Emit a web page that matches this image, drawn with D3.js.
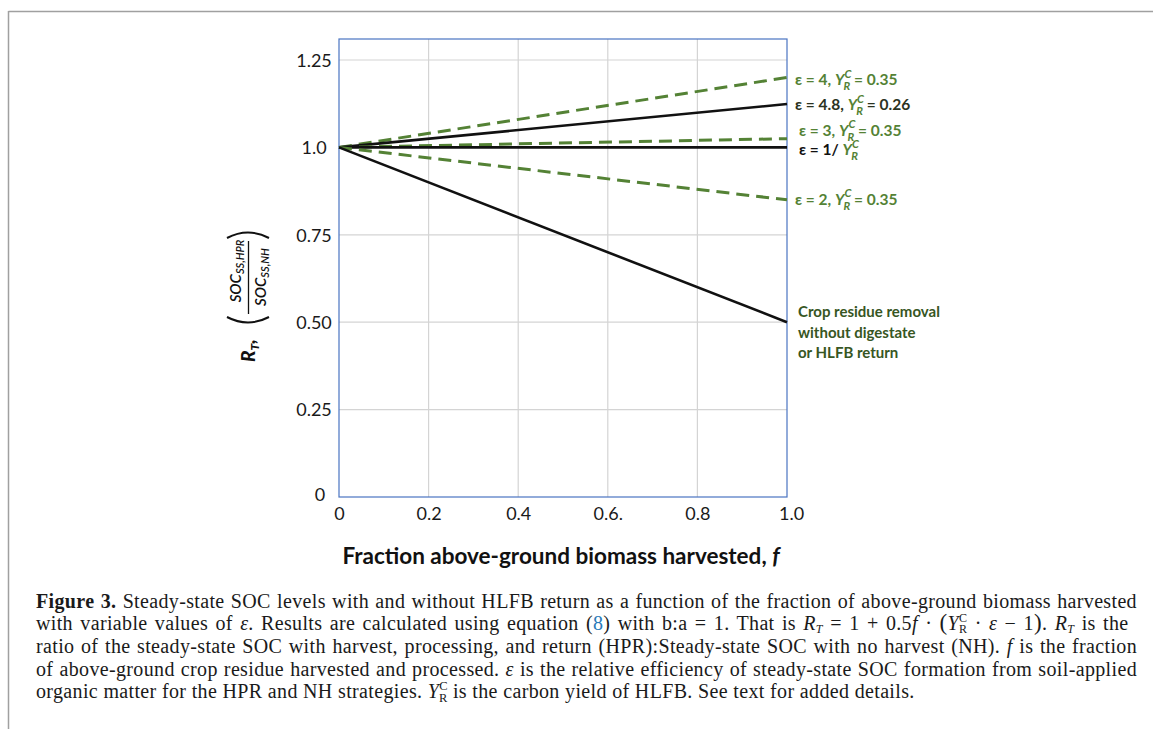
<!DOCTYPE html>
<html><head><meta charset="utf-8">
<script src="https://cdn.jsdelivr.net/npm/d3@7"></script>
<style>body{margin:0;background:#fff} svg{display:block}</style>
</head><body>
<svg id="c" width="1153" height="729"></svg>
<script>
// ---------- data ----------
const fValues = [0, 1];
const eps4    = [1.0, 1.20];
const eps48   = [1.0, 1.124];
const eps3    = [1.0, 1.025];
const eps1    = [1.0, 1.0];
const eps2    = [1.0, 0.85];
const removal = [1.0, 0.50];
const yTicks = [0, 0.25, 0.5, 0.75, 1.0, 1.25];
const yTickLabels = ["0", "0.25", "0.50", "0.75", "1.0", "1.25"];
const xTicks = [0, 0.2, 0.4, 0.6, 0.8, 1.0];
const xTickLabels = ["0", "0.2", "0.4", "0.6.", "0.8", "1.0"];
const epsLabels = ["4", "4.8", "3", "1/", "2"];
const yrcLabels = ["0.35", "0.26", "0.35", "", "0.35"];
const removalLabel = ["Crop residue removal", "without digestate", "or HLFB return"];

// ---------- styles ----------
const GREEN = "#548235", DARKGREEN = "#375623", BLACK = "#111";
const series = [
  {v: eps4, color: GREEN, dash: "13,7", w: 3},
  {v: eps48, color: BLACK, dash: null, w: 2.6},
  {v: eps3, color: GREEN, dash: "13,7", w: 3},
  {v: eps1, color: BLACK, dash: null, w: 2.6},
  {v: eps2, color: GREEN, dash: "13,7", w: 3},
  {v: removal, color: BLACK, dash: null, w: 2.6}
];
const labelStyle = [
  {dy: 8, dx: 8, epsColor: GREEN, numColor: GREEN},
  {dy: 6, dx: 8, epsColor: "#2b3322", numColor: "#2b3322"},
  {dy: -3, dx: 12, epsColor: GREEN, numColor: GREEN},
  {dy: 8, dx: 12, epsColor: BLACK, numColor: BLACK},
  {dy: 5, dx: 8, epsColor: GREEN, numColor: GREEN}
];

const svg = d3.select("#c");
const x = d3.scaleLinear().domain([0, 1]).range([339, 787]);
const y = d3.scaleLinear().domain([0, 1.31]).range([497, 39]);

// frame
svg.append("line").attr("x1", 8.5).attr("x2", 1153).attr("y1", 11.5).attr("y2", 11.5)
  .attr("stroke", "#a0a0a0").attr("stroke-width", 1.5);
svg.append("line").attr("x1", 8.5).attr("x2", 8.5).attr("y1", 11).attr("y2", 729)
  .attr("stroke", "#a0a0a0").attr("stroke-width", 1.5);

// grid
const g = svg.append("g");
g.selectAll(".hg").data(yTicks.filter(d => d > 0)).join("line")
  .attr("x1", x(0)).attr("x2", x(1)).attr("y1", d => y(d)).attr("y2", d => y(d))
  .attr("stroke", "#d4d4d4").attr("stroke-width", 1.2);
g.selectAll(".vg").data(xTicks.filter(d => d > 0 && d < 1)).join("line")
  .attr("x1", d => x(d)).attr("x2", d => x(d)).attr("y1", y(0)).attr("y2", y.range()[1])
  .attr("stroke", "#d4d4d4").attr("stroke-width", 1.2);
// plot border
g.append("rect").attr("x", x(0)).attr("y", y.range()[1]).attr("width", x(1) - x(0))
  .attr("height", y(0) - y.range()[1]).attr("fill", "none").attr("stroke", "#4a74c2").attr("stroke-width", 1.2);

// axes (labels via d3 axes, domain & ticks hidden)
const yAxis = d3.axisLeft(y).tickValues(yTicks).tickFormat((d, i) => yTickLabels[i]).tickSize(0).tickPadding(0);
const ya = svg.append("g").attr("transform", "translate(314,0)").call(yAxis);
ya.select(".domain").remove();
ya.selectAll("text").attr("text-anchor", "middle").attr("font-family", "Lato, 'Open Sans', sans-serif")
  .attr("font-size", 18).attr("fill", "#1a1a1a").attr("dy", "0.35em");
ya.selectAll("text").filter((d) => d === 0).attr("dx", 6).attr("dy", "0.2em");

const xAxis = d3.axisBottom(x).tickValues(xTicks).tickFormat((d, i) => xTickLabels[i]).tickSize(0).tickPadding(0);
const xa = svg.append("g").attr("transform", "translate(0,510)").call(xAxis);
xa.select(".domain").remove();
xa.selectAll("text").attr("font-family", "Lato, 'Open Sans', sans-serif").attr("font-size", 18)
  .attr("fill", "#1a1a1a").attr("dy", "0.55em");
xa.selectAll("text").filter(d => d === 1).attr("dx", 4);

// lines
const line = d3.line().x((d, i) => x(fValues[i])).y(d => y(d));
svg.selectAll(".ser").data(series).join("path")
  .attr("d", d => line(d.v)).attr("fill", "none")
  .attr("stroke", d => d.color).attr("stroke-width", d => d.w)
  .attr("stroke-dasharray", d => d.dash);

// right labels
const LF = "Lato, 'Open Sans', sans-serif";
const LS = 15.5;
function yrc(t, color, size) {
  t.append("tspan").attr("font-style", "italic").attr("fill", color).attr("font-size", size).text("Y");
  t.append("tspan").attr("font-style", "italic").attr("fill", color).attr("font-size", size * 0.72).attr("dy", -size * 0.48).text("C");
  t.append("tspan").attr("font-style", "italic").attr("fill", color).attr("font-size", size * 0.72).attr("dx", -size * 0.5).attr("dy", size * 0.80).text("R");
  t.append("tspan").attr("font-size", size).attr("dy", -size * 0.32).text(" ");
}
const labelIdx = [0, 1, 2, 3, 4];
labelIdx.forEach(i => {
  const s = series[i], st = labelStyle[i];
  const t = svg.append("text").attr("x", x(1) + st.dx).attr("y", y(s.v[1]) + st.dy)
    .attr("font-family", LF).attr("font-weight", 700).attr("font-size", LS).attr("fill", st.epsColor);
  if (yrcLabels[i]) {
    t.append("tspan").text("\u03b5 = " + epsLabels[i] + ", ");
    yrc(t, GREEN, LS);
    t.append("tspan").attr("fill", st.numColor).text("= " + yrcLabels[i]);
  } else {
    t.append("tspan").text("\u03b5 = " + epsLabels[i] + " ");
    yrc(t, GREEN, LS);
  }
});
svg.append("text").attr("font-family", LF).attr("font-weight", 700).attr("font-size", 15).attr("fill", DARKGREEN)
  .selectAll("tspan").data(removalLabel).join("tspan")
  .attr("x", x(1) + 11).attr("y", (d, i) => y(removal[1]) - 5 + i * 20.5).text(d => d);

// x title
const xt = svg.append("text").attr("x", 561).attr("y", 564).attr("text-anchor", "middle")
  .attr("font-family", LF).attr("font-weight", 700).attr("font-size", 22.5).attr("fill", "#111");
xt.append("tspan").text("Fraction above-ground biomass harvested, ");
xt.append("tspan").attr("font-style", "italic").text("f");

// y title (rotated)
const yt = svg.append("g").attr("transform", "translate(248,280) rotate(-90)");
const rt = yt.append("text").attr("x", -82).attr("y", 7).attr("font-family", LF).attr("font-weight", 900)
  .attr("font-style", "italic").attr("font-size", 19).attr("fill", "#111");
rt.append("tspan").text("R");
rt.append("tspan").attr("font-size", 12).attr("dy", 4).text("T");
rt.append("tspan").attr("dy", -4).text(",");
yt.append("text").attr("x", 9).attr("y", -7).attr("text-anchor", "middle").attr("font-family", LF)
  .attr("font-style", "italic").attr("font-weight", 600).attr("font-size", 15).attr("fill", "#111")
  .call(t => { t.append("tspan").text("SOC"); t.append("tspan").attr("font-size", 11).attr("dy", 3).text("SS,HPR"); });
yt.append("text").attr("x", 3).attr("y", 18).attr("text-anchor", "middle").attr("font-family", LF)
  .attr("font-style", "italic").attr("font-weight", 600).attr("font-size", 15).attr("fill", "#111")
  .call(t => { t.append("tspan").text("SOC"); t.append("tspan").attr("font-size", 11).attr("dy", 3).text("SS,NH"); });
yt.append("line").attr("x1", -34).attr("x2", 39).attr("y1", 0.5).attr("y2", 0.5).attr("stroke", "#111").attr("stroke-width", 1.3);
yt.append("path").attr("d", "M -37 -21 Q -48 0 -37 21").attr("fill", "none").attr("stroke", "#111").attr("stroke-width", 2);
yt.append("path").attr("d", "M 42 -21 Q 53 0 42 21").attr("fill", "none").attr("stroke", "#111").attr("stroke-width", 2);

// caption
const SERIF = "'Liberation Serif', 'DejaVu Serif', serif";
const capX = 36, capRight = 1137, capSize = 20, capLS = 0.35;
const baselines = [607.5, 630, 653, 675.5, 698];
function cap(i, justify, build) {
  const t = svg.append("text").attr("x", capX).attr("y", baselines[i]).attr("font-family", SERIF)
    .attr("font-size", capSize).attr("letter-spacing", capLS).attr("fill", "#1a1a1a");
  build(t);
  if (justify) {
    const len = t.node().getComputedTextLength();
    const spaces = (t.text().match(/ /g) || []).length;
    t.attr("word-spacing", (capRight - capX - len) / spaces);
  }
}
cap(0, true, t => {
  t.append("tspan").attr("font-weight", 700).text("Figure 3.");
  t.append("tspan").text(" Steady-state SOC levels with and without HLFB return as a function of the fraction of above-ground biomass harvested");
});
cap(1, true, t => {
  t.append("tspan").text("with variable values of ");
  t.append("tspan").attr("font-style", "italic").text("\u03b5");
  t.append("tspan").text(". Results are calculated using equation (");
  t.append("tspan").attr("fill", "#2a7ab8").text("8");
  t.append("tspan").text(") with b:a = 1. That is ");
  t.append("tspan").attr("font-style", "italic").text("R");
  t.append("tspan").attr("font-style", "italic").attr("font-size", 12).attr("dy", 3).text("T");
  t.append("tspan").attr("dy", -3).text(" = 1 + 0.5");
  t.append("tspan").attr("font-style", "italic").text("f");
  t.append("tspan").text(" \u00b7 ");
  t.append("tspan").attr("font-size", 23).text("(");
  t.append("tspan").attr("font-style", "italic").text("Y");
  t.append("tspan").attr("font-size", 12).attr("dy", -8).text("C");
  t.append("tspan").attr("font-size", 12).attr("dx", -8.5).attr("dy", 11).text("R");
  t.append("tspan").attr("dy", -3).text(" \u00b7 ");
  t.append("tspan").attr("font-style", "italic").text("\u03b5");
  t.append("tspan").text(" \u2212 1");
  t.append("tspan").attr("font-size", 23).text(")");
  t.append("tspan").text(". ");
  t.append("tspan").attr("font-style", "italic").text("R");
  t.append("tspan").attr("font-style", "italic").attr("font-size", 12).attr("dy", 3).text("T");
  t.append("tspan").attr("dy", -3).text(" is the");
});
cap(2, true, t => {
  t.append("tspan").text("ratio of the steady-state SOC with harvest, processing, and return (HPR):Steady-state SOC with no harvest (NH). ");
  t.append("tspan").attr("font-style", "italic").text("f");
  t.append("tspan").text(" is the fraction");
});
cap(3, true, t => {
  t.append("tspan").text("of above-ground crop residue harvested and processed. ");
  t.append("tspan").attr("font-style", "italic").text("\u03b5");
  t.append("tspan").text(" is the relative efficiency of steady-state SOC formation from soil-applied");
});
cap(4, false, t => {
  t.append("tspan").text("organic matter for the HPR and NH strategies. ");
  t.append("tspan").attr("font-style", "italic").text("Y");
  t.append("tspan").attr("font-size", 12.5).attr("dy", -8).text("C");
  t.append("tspan").attr("font-size", 12.5).attr("dx", -9).attr("dy", 12).text("R");
  t.append("tspan").attr("dy", -4).text(" is the carbon yield of HLFB. See text for added details.");
});
</script>
</body></html>
